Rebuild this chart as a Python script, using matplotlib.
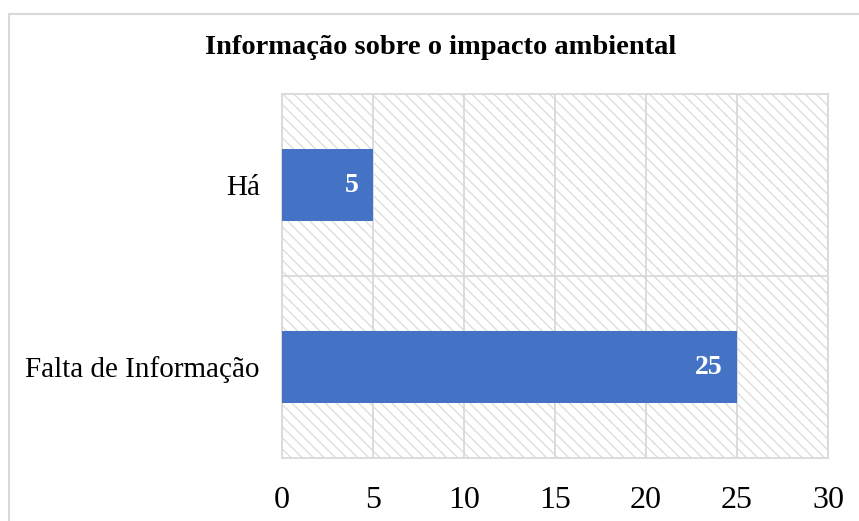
import matplotlib
matplotlib.use("Agg")
import matplotlib.pyplot as plt
from matplotlib.patches import Rectangle

categories = ["Há", "Falta de Informação"]
values = [5, 25]
xticks = [0, 5, 10, 15, 20, 25, 30]
title = "Informação sobre o impacto ambiental"

plt.rcParams['font.family'] = ['Liberation Serif', 'DejaVu Serif']
plt.rcParams['hatch.linewidth'] = 1.0

fig = plt.figure(figsize=(8.59, 5.21), dpi=100)
# outer chart border
fig.patches.append(Rectangle((9/859, -0.1), 1.0, 1 - 14/521 + 0.1, transform=fig.transFigure,
                             fill=False, edgecolor='#d9d9d9', linewidth=1.5))

ax = fig.add_axes([282/859, 63/521, 546/859, 364/521])
ax.set_xlim(0, 30)
ax.set_ylim(len(categories) - 0.5, -0.5)

bg = Rectangle((0, 0), 1, 1, transform=ax.transAxes, facecolor='white',
               edgecolor='#dedede', hatch='\\\\\\', linewidth=0, zorder=0)
ax.add_patch(bg)
ax.set_facecolor('white')

ypos = list(range(len(categories)))
bars = ax.barh(ypos, values, height=0.4, color='#4472c4', zorder=3)
for b, v in zip(bars, values):
    ax.text(b.get_width() - 0.8, b.get_y() + b.get_height() / 2, str(v),
            ha='right', va='center', color='white', fontsize=20, fontweight='bold', zorder=4)

ax.set_xticks(xticks)
ax.set_xticklabels([str(t) for t in xticks], fontsize=23)
ax.set_yticks(ypos)
ax.set_yticklabels(categories, fontsize=21)
ax.set_yticks([0.5], minor=True)
ax.tick_params(axis='both', which='both', length=0)
ax.tick_params(axis='x', pad=20)
ax.tick_params(axis='y', pad=16)
ax.grid(axis='x', which='major', color='#d9d9d9', linewidth=1.3, zorder=1)
ax.grid(axis='y', which='minor', color='#d9d9d9', linewidth=1.3, zorder=1)
ax.set_axisbelow(True)
for s in ax.spines.values():
    s.set_color('#d9d9d9')
    s.set_linewidth(1.3)

fig.text(441/859, 1 - 48/521, title, ha='center', va='center', fontsize=20.5, fontweight='bold')

fig.savefig('out.png', dpi=100)
